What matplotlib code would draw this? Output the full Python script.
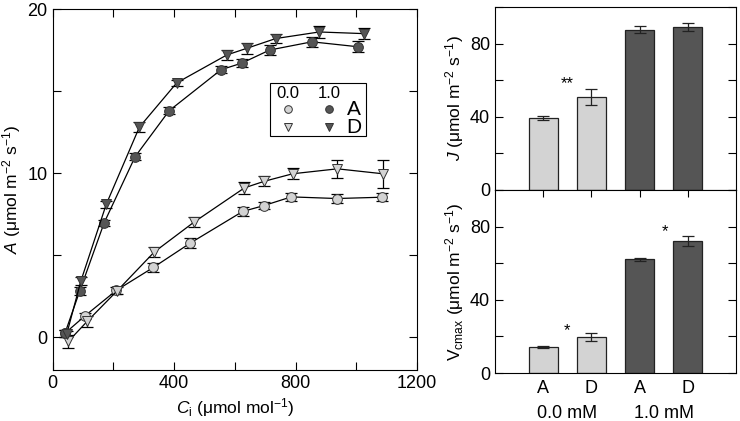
import matplotlib
matplotlib.use("Agg")
import matplotlib.pyplot as plt
from matplotlib.patches import Rectangle
from matplotlib.ticker import MultipleLocator

plt.rcParams['font.family'] = ['Liberation Sans', 'DejaVu Sans']
plt.rcParams['mathtext.fontset'] = 'custom'
plt.rcParams['mathtext.rm'] = 'Liberation Sans'
plt.rcParams['mathtext.it'] = 'Liberation Sans:italic'
plt.rcParams['font.size'] = 12

# ---- data: A/Ci curves ----
ci_00A = [41, 107, 210, 332, 454, 626, 696, 786, 936, 1085]
a_00A = [0.24, 1.3, 2.85, 4.25, 5.74, 7.66, 8.02, 8.55, 8.45, 8.53]
e_00A = [0.2, 0.2, 0.2, 0.3, 0.3, 0.25, 0.2, 0.25, 0.25, 0.25]

ci_00D = [52, 114, 213, 335, 465, 632, 697, 791, 938, 1087]
a_00D = [-0.26, 0.96, 2.83, 5.19, 7.0, 9.1, 9.5, 9.96, 10.26, 9.96]
e_00D = [0.4, 0.35, 0.2, 0.3, 0.3, 0.35, 0.3, 0.35, 0.55, 0.85]

ci_10A = [41, 90, 170, 272, 384, 555, 623, 715, 854, 1005]
a_10A = [0.24, 2.83, 6.97, 11.0, 13.8, 16.3, 16.7, 17.5, 18.0, 17.7]
e_10A = [0.2, 0.25, 0.2, 0.2, 0.2, 0.2, 0.25, 0.3, 0.3, 0.35]

ci_10D = [47, 93, 177, 286, 409, 574, 639, 735, 878, 1025]
a_10D = [0.2, 3.4, 8.1, 12.8, 15.5, 17.2, 17.6, 18.2, 18.6, 18.5]
e_10D = [0.2, 0.25, 0.2, 0.3, 0.2, 0.3, 0.35, 0.3, 0.35, 0.35]

# ---- data: bars ----
bar_labels = ['A', 'D', 'A', 'D']
group_labels = ['0.0 mM', '1.0 mM']
J_vals = [39.2, 50.8, 87.6, 89.0]
J_err = [1.0, 4.5, 2.0, 2.2]
V_vals = [14.2, 19.6, 62.1, 72.3]
V_err = [0.8, 2.0, 1.0, 2.8]

light = '#d3d3d3'
dark = '#555555'
TICK = 13
LAB = 12.5

fig = plt.figure(figsize=(7.4, 4.21), dpi=100)
ax = fig.add_axes([52.5/740, 1 - 370/421, (417 - 52.5)/740, (370 - 9)/421])

def series(x, y, e, marker, fc):
    ax.errorbar(x, y, yerr=e, fmt='none', ecolor='black',
                elinewidth=0.9, capsize=4, capthick=0.9, zorder=2)
    ax.plot(x, y, '-', color='black', lw=0.9, zorder=3,
            marker=marker, markersize=7, markerfacecolor=fc,
            markeredgecolor='#333333', markeredgewidth=0.7)

series(ci_00A, a_00A, e_00A, 'o', light)
series(ci_00D, a_00D, e_00D, 'v', light)
series(ci_10A, a_10A, e_10A, 'o', dark)
series(ci_10D, a_10D, e_10D, 'v', dark)

ax.set_xlim(0, 1200)
ax.set_ylim(-2, 20)
ax.xaxis.set_major_locator(MultipleLocator(400))
ax.xaxis.set_minor_locator(MultipleLocator(200))
ax.yaxis.set_major_locator(MultipleLocator(10))
ax.yaxis.set_minor_locator(MultipleLocator(5))
ax.tick_params(which='both', direction='in', top=True, right=True, length=6, width=0.8)
ax.tick_params(which='major', labelsize=TICK)
ax.set_xlabel(r'$\it{C}_{\rm i}$ (μmol mol$^{-1}$)', fontsize=LAB, labelpad=3)
ax.set_ylabel(r'$\it{A}$ (μmol m$^{-2}$ s$^{-1}$)', fontsize=LAB, labelpad=3)

# legend box
lx0, ly0, lw, lh = 0.597, 0.648, 0.263, 0.147
ax.add_patch(Rectangle((lx0, ly0), lw, lh, transform=ax.transAxes, fill=False,
                       edgecolor='black', lw=0.8, zorder=5))
ax.text(0.646, 0.765, '0.0', transform=ax.transAxes, ha='center', va='center', fontsize=12)
ax.text(0.759, 0.765, '1.0', transform=ax.transAxes, ha='center', va='center', fontsize=12)
ax.plot([0.646], [0.722], 'o', transform=ax.transAxes, ms=5.5, mfc=light, mec='#333333', mew=0.7)
ax.plot([0.759], [0.722], 'o', transform=ax.transAxes, ms=5.5, mfc=dark, mec='#333333', mew=0.7)
ax.plot([0.646], [0.673], 'v', transform=ax.transAxes, ms=5.5, mfc=light, mec='#333333', mew=0.7)
ax.plot([0.759], [0.673], 'v', transform=ax.transAxes, ms=5.5, mfc=dark, mec='#333333', mew=0.7)
ax.text(0.827, 0.722, 'A', transform=ax.transAxes, ha='center', va='center', fontsize=15)
ax.text(0.827, 0.673, 'D', transform=ax.transAxes, ha='center', va='center', fontsize=15)

# bar panels
bl = 495/740
bw = (736 - 495)/740
axJ = fig.add_axes([bl, 1 - 190/421, bw, 183/421])
axV = fig.add_axes([bl, 1 - 373/421, bw, 183/421])
pos = [1, 2, 3, 4]
cols = [light, light, dark, dark]
for a_, vals, errs in [(axJ, J_vals, J_err), (axV, V_vals, V_err)]:
    a_.bar(pos, vals, width=0.6, color=cols, edgecolor='#222222', linewidth=0.9, zorder=2)
    a_.errorbar(pos, vals, yerr=errs, fmt='none', ecolor='#222222', elinewidth=0.9,
                capsize=4, capthick=0.9, zorder=3)
    a_.set_xlim(0, 5)
    a_.set_ylim(0, 100)
    a_.yaxis.set_major_locator(MultipleLocator(40))
    a_.yaxis.set_minor_locator(MultipleLocator(20))
    a_.tick_params(which='both', direction='in', right=True, length=6, width=0.8)
    a_.tick_params(which='major', labelsize=TICK)

axJ.set_xticks(pos)
axJ.tick_params(axis='x', bottom=False, labelbottom=False)
axV.set_xticks(pos)
axV.set_xticklabels(bar_labels, fontsize=TICK)
axV.tick_params(axis='x', top=True, bottom=True, length=5, pad=5)
for gx, gl in zip([1.5, 3.5], group_labels):
    axV.text(gx, -0.175, gl, transform=axV.get_xaxis_transform(), ha='center', va='top', fontsize=TICK)

axJ.text(1.5, 58, '**', ha='center', va='center', fontsize=12)
axV.text(1.5, 23, '*', ha='center', va='center', fontsize=12)
axV.text(3.53, 77.5, '*', ha='center', va='center', fontsize=12)

axJ.set_ylabel(r'$\it{J}$ (μmol m$^{-2}$ s$^{-1}$)', fontsize=LAB, labelpad=3)
axV.set_ylabel(r'V$_{\rm cmax}$ (μmol m$^{-2}$ s$^{-1}$)', fontsize=LAB, labelpad=3)

fig.savefig('out.png', dpi=100)
